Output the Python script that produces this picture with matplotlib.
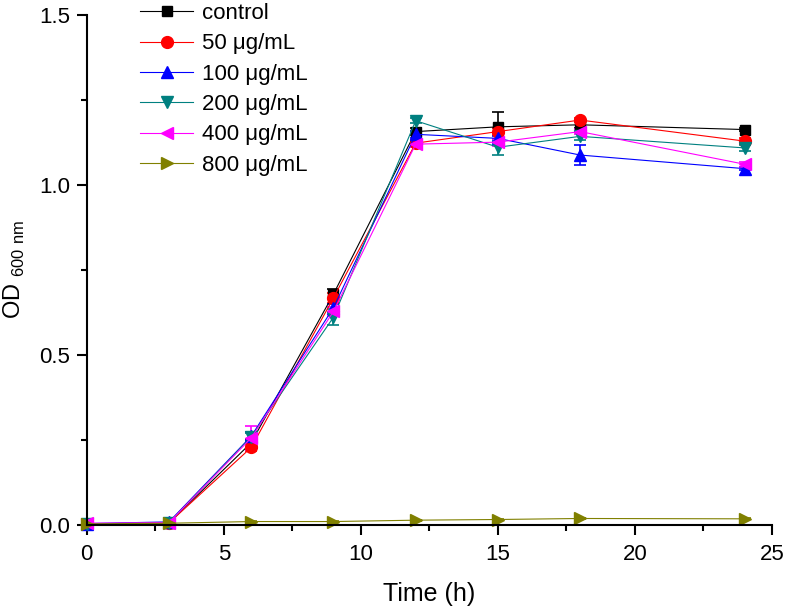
import matplotlib
matplotlib.use("Agg")
import matplotlib.pyplot as plt
from matplotlib.ticker import MultipleLocator, FormatStrFormatter
from matplotlib.lines import Line2D

plt.rcParams['font.family'] = ['Liberation Sans', 'DejaVu Sans']

time = [0, 3, 6, 9, 12, 15, 18, 24]
labels = ["control", "50 μg/mL", "100 μg/mL", "200 μg/mL", "400 μg/mL", "800 μg/mL"]
control = [0.002, 0.005, 0.241, 0.678, 1.156, 1.170, 1.176, 1.162]
c50 = [0.002, 0.005, 0.227, 0.667, 1.122, 1.156, 1.190, 1.128]
c100 = [0.003, 0.008, 0.260, 0.638, 1.148, 1.136, 1.087, 1.047]
c200 = [0.002, 0.006, 0.258, 0.610, 1.188, 1.110, 1.142, 1.108]
c400 = [0.004, 0.006, 0.255, 0.627, 1.119, 1.125, 1.156, 1.060]
c800 = [0.002, 0.004, 0.009, 0.009, 0.013, 0.015, 0.018, 0.017]

err_control = [0.002, 0.002, 0.012, 0.015, 0.010, 0.044, 0.010, 0.005]
err_50 = [0.002, 0.002, 0.010, 0.015, 0.010, 0.010, 0.006, 0.008]
err_100 = [0.002, 0.002, 0.012, 0.012, 0.010, 0.008, 0.030, 0.005]
err_200 = [0.002, 0.002, 0.012, 0.023, 0.008, 0.023, 0.012, 0.010]
err_400 = [0.002, 0.002, 0.035, 0.012, 0.008, 0.010, 0.008, 0.008]
err_800 = [0.001, 0.001, 0.001, 0.001, 0.001, 0.001, 0.001, 0.001]

series = [control, c50, c100, c200, c400, c800]
errs = [err_control, err_50, err_100, err_200, err_400, err_800]
colors = ['#000000', '#FF0000', '#0000FF', '#008080', '#FF00FF', '#808000']
markers = ['s', 'o', '^', 'v', '<', '>']
msizes = [7, 8.5, 8.5, 8.5, 8.5, 8.5]

fig = plt.figure(figsize=(7.87, 6.10), dpi=100)
ax = fig.add_axes([0.1103, 0.140, 0.8706, 0.836])

handles = []
for y, e, c, m, ms, lab in zip(series, errs, colors, markers, msizes, labels):
    ax.errorbar(time, y, yerr=e, color=c, marker=m, markersize=ms, lw=0.8,
                elinewidth=1.2, capsize=4.5, capthick=1.2, clip_on=False)
    handles.append(Line2D([], [], color=c, marker=m, markersize=ms, lw=0.8, label=lab))

ax.set_xlim(0, 25)
ax.set_ylim(0, 1.5)
ax.xaxis.set_major_locator(MultipleLocator(5))
ax.xaxis.set_minor_locator(MultipleLocator(2.5))
ax.yaxis.set_major_locator(MultipleLocator(0.5))
ax.yaxis.set_minor_locator(MultipleLocator(0.25))
ax.yaxis.set_major_formatter(FormatStrFormatter('%.1f'))
for s in ['top', 'right']:
    ax.spines[s].set_visible(False)
for s in ['left', 'bottom']:
    ax.spines[s].set_linewidth(1.5)
ax.tick_params(which='major', direction='out', length=7, width=1.5, labelsize=16)
ax.tick_params(axis='x', which='major', pad=7)
ax.tick_params(axis='y', which='major', pad=5)
ax.tick_params(which='minor', direction='out', length=4, width=1.5)

ax.set_xlabel('Time (h)', fontsize=18, labelpad=12)
ax.set_ylabel(r'OD $_{\mathregular{600\ nm}}$', fontsize=17)
ax.yaxis.set_label_coords(-0.088, 0.5)

leg = ax.legend(handles=handles, loc='upper left', bbox_to_anchor=(0.178, 0.995),
                bbox_transform=fig.transFigure, frameon=False, fontsize=16,
                handlelength=2.4, handletextpad=0.4, labelspacing=0.42,
                borderpad=0, borderaxespad=0)

fig.savefig('out.png', dpi=100)
